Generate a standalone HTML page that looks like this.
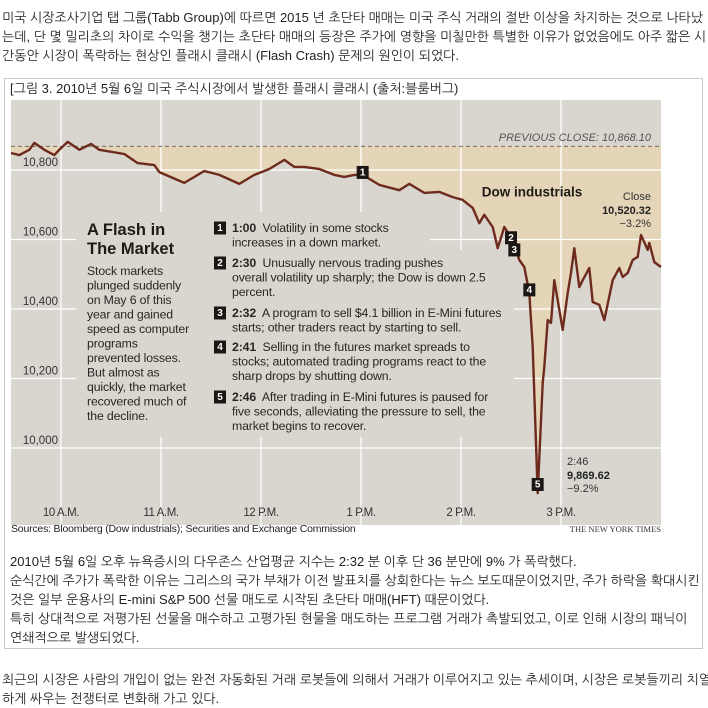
<!DOCTYPE html>
<html><head><meta charset="utf-8">
<style>
body{margin:0;width:708px;height:707px;background:#fff;overflow:hidden;font-family:"Liberation Sans","NanumGothic","Noto Sans CJK KR",sans-serif;color:#222;}
.kt{position:absolute;left:2px;font-size:13px;line-height:19px;white-space:nowrap;letter-spacing:0px;}
#box{position:absolute;left:4px;top:78px;width:697px;height:569px;border:1px solid #c8c8c8;}
svg{position:absolute;left:0;top:0;}
</style></head><body>
<div class="kt" style="top:8px">미국 시장조사기업 탭 그룹(Tabb Group)에 따르면 2015 년 초단타 매매는 미국 주식 거래의 절반 이상을 차지하는 것으로 나타났<br>는데, 단 몇 밀리초의 차이로 수익을 챙기는 초단타 매매의 등장은 주가에 영향을 미칠만한 특별한 이유가 없었음에도 아주 짧은 시<br>간동안 시장이 폭락하는 현상인 플래시 클래시 (Flash Crash) 문제의 원인이 되었다.</div>
<div id="box"></div>
<div class="kt" style="top:79px;left:10px">[그림 3. 2010년 5월 6일 미국 주식시장에서 발생한 플래시 클래시 (출처:블룸버그)</div>
<svg id="chart" width="708" height="707"></svg>
<div class="kt" style="top:552px;left:10px">2010년 5월 6일 오후 뉴욕증시의 다우존스 산업평균 지수는 2:32 분 이후 단 36 분만에 9% 가 폭락했다.<br>순식간에 주가가 폭락한 이유는 그리스의 국가 부채가 이전 발표치를 상회한다는 뉴스 보도때문이었지만, 주가 하락을 확대시킨<br>것은 일부 운용사의 E-mini S&amp;P 500 선물 매도로 시작된 초단타 매매(HFT) 때문이었다.<br>특히 상대적으로 저평가된 선물을 매수하고 고평가된 현물을 매도하는 프로그램 거래가 촉발되었고, 이로 인해 시장의 패닉이<br>연쇄적으로 발생되었다.</div>
<div class="kt" style="top:670px">최근의 시장은 사람의 개입이 없는 완전 자동화된 거래 로봇들에 의해서 거래가 이루어지고 있는 추세이며, 시장은 로봇들끼리 치열<br>하게 싸우는 전쟁터로 변화해 가고 있다.</div>
<script>
const times=[0,5,11,14,20,26,29,34,41,48,53,68,76,86,89,104,116,125,137,146,155,164,170,176,185,194,200,206,211,221,233,239,248,257,265,271,277,281,284,289,292,296,301,305,308,311,313,316,319,320,322,324,326,331,334,336,338,341,343,347,349,353,356,361,365,367,370,373,376,378,382,383,386,390];
const values=[10849,10843,10858,10878,10858,10843,10858,10881,10858,10875,10858,10846,10820,10814,10794,10763,10797,10786,10760,10786,10803,10829,10809,10809,10803,10786,10780,10786,10786,10757,10742,10760,10734,10737,10722,10714,10691,10647,10671,10636,10575,10636,10599,10541,10521,10446,10291,9870,10187,10233,10368,10360,10483,10340,10446,10504,10575,10463,10483,10518,10420,10412,10368,10483,10518,10492,10504,10541,10550,10613,10570,10590,10535,10521];
const yTicks=[10000,10200,10400,10600,10800];
const yTickLabels=["10,000","10,200","10,400","10,600","10,800"];
const xTicks=[30,90,150,210,270,330];
const xTickLabels=["10 A.M.","11 A.M.","12 P.M.","1 P.M.","2 P.M.","3 P.M."];
const prevClose=10868.10;
const markerTimes=[211,300,302,311,316];
const markerValues=[10793,10605,10570,10455,9895];
const markerLabels=["1","2","3","4","5"];

const L=11,R=661,T=100,B=525;
const X=t=>L+(t/390)*(R-L);
const Y=v=>170+(10800-v)*0.3475;
const NS="http://www.w3.org/2000/svg";
const svg=document.getElementById('chart');
function mk(tag,attrs,parent){const e=document.createElementNS(NS,tag);for(const k in attrs)e.setAttribute(k,attrs[k]);(parent||svg).appendChild(e);return e;}
function txt(s,x,y,attrs){const e=mk('text',Object.assign({x:x,y:y,'font-family':'Liberation Sans, sans-serif','dominant-baseline':'central'},attrs));e.textContent=s;return e;}

const bg=mk('rect',{x:L,y:T,width:R-L,height:B-T,fill:'#d9d6d0'});


const py=Y(prevClose);
const clip=mk('clipPath',{id:'belowPrev'});
mk('rect',{x:L,y:py,width:R-L,height:B-py},clip);
let d='M'+X(times[0])+','+py;
times.forEach((t,i)=>{d+=' L'+X(t).toFixed(1)+','+Y(values[i]).toFixed(1);});
d+=' L'+X(times[times.length-1])+','+py+' Z';
const fill=mk('path',{d:d,fill:'#e4d5b8','clip-path':'url(#belowPrev)'});


yTicks.forEach((v,i)=>{
  const g=mk('line',{x1:L,x2:R,y1:Y(v),y2:Y(v),stroke:'#fff','stroke-width':1.3});
  
  
  const t=txt(yTickLabels[i],58,Y(v)-7,{'font-size':'11.5','text-anchor':'end',fill:'#333'});
  
  
});
xTicks.forEach((m,i)=>{
  const g=mk('line',{x1:X(m),x2:X(m),y1:T,y2:B,stroke:'#fff','stroke-width':1.3});
  
  
  const t=txt(xTickLabels[i],X(m),513,{'font-size':'11.5','text-anchor':'middle',fill:'#333','letter-spacing':'-0.4'});
  
  
});
const m1=mk('rect',{x:76,y:212,width:354,height:225,fill:'#d9d6d0'});


const m2=mk('rect',{x:430,y:250,width:84,height:187,fill:'#d9d6d0'});


const dash=mk('line',{x1:L,x2:R,y1:py,y2:py,stroke:'#7a6a58','stroke-width':1,'stroke-dasharray':'4,3'});


const pc=txt('PREVIOUS CLOSE: 10,868.10',651,138,{'font-size':'11','text-anchor':'end',fill:'#555','font-style':'italic'});


let ld='';
times.forEach((t,i)=>{ld+=(i?' L':'M')+X(t).toFixed(1)+','+Y(values[i]).toFixed(1);});
const line=mk('path',{d:ld,fill:'none',stroke:'#6e2a1c','stroke-width':2.4,'stroke-linejoin':'round'});


markerTimes.forEach((t,i)=>{
  const x=X(t),y=Y(markerValues[i]);
  const r=mk('rect',{x:x-6,y:y-6.5,width:12,height:13,fill:'#1c1714'});
  
  
  txt(markerLabels[i],x,y+0.5,{'font-size':'10','font-weight':'bold','text-anchor':'middle',fill:'#fff'});
});
const dl=txt('Dow industrials',532,192,{'font-size':'13.5','font-weight':'bold','text-anchor':'middle',fill:'#1e1a16'});


txt('Close',651,197,{'font-size':'11','text-anchor':'end',fill:'#333'});
txt('10,520.32',651,211,{'font-size':'11','font-weight':'bold','text-anchor':'end',fill:'#222'});
txt('\u22123.2%',651,224,{'font-size':'11','text-anchor':'end',fill:'#333'});
txt('2:46',567,462,{'font-size':'11',fill:'#333'});
txt('9,869.62',567,476,{'font-size':'11','font-weight':'bold',fill:'#222'});
txt('\u22129.2%',567,489,{'font-size':'11',fill:'#333'});
const t1=txt('A Flash in',87,230,{'font-size':'16.5','font-weight':'bold',fill:'#1e1a16'});


txt('The Market',87,249,{'font-size':'16.5','font-weight':'bold',fill:'#1e1a16'});
const body=['Stock markets','plunged suddenly','on May 6 of this','year and gained','speed as computer','programs','prevented losses.','But almost as','quickly, the market','recovered much of','the decline.'];
body.forEach((s,i)=>txt(s,87,271+i*14.5,{'font-size':'12.3',fill:'#2a2622','letter-spacing':'-0.15'}));
const items=[[228,'1','1:00','Volatility in some stocks',['increases in a down market.']],
[263,'2','2:30','Unusually nervous trading pushes',['overall volatility up sharply; the Dow is down 2.5','percent.']],
[313,'3','2:32','A program to sell $4.1 billion in E-Mini futures',['starts; other traders react by starting to sell.']],
[347,'4','2:41','Selling in the futures market spreads to',['stocks; automated trading programs react to the','sharp drops by shutting down.']],
[397,'5','2:46','After trading in E-Mini futures is paused for',['five seconds, alleviating the pressure to sell, the','market begins to recover.']]];
items.forEach(it=>{
  const y=it[0];
  const r=mk('rect',{x:214,y:y-6.5,width:12,height:13,fill:'#1c1714'});
  
  
  txt(it[1],220,y+0.5,{'font-size':'10','font-weight':'bold','text-anchor':'middle',fill:'#fff'});
  const e=mk('text',{x:232,y:y,'font-family':'Liberation Sans, sans-serif','dominant-baseline':'central','font-size':'12.3',fill:'#2a2622','letter-spacing':'-0.15'});
  const b=mk('tspan',{'font-weight':'bold'},e);b.textContent=it[2];
  const n=mk('tspan',{},e);n.textContent='\u00a0 '+it[3];
  it[4].forEach((s,j)=>txt(s,232,y+14.5*(j+1),{'font-size':'12.3',fill:'#2a2622','letter-spacing':'-0.15'}));
});
const src=txt('Sources: Bloomberg (Dow industrials); Securities and Exchange Commission',11,529,{'font-size':'10.5',fill:'#222','letter-spacing':'-0.2'});


const ny=mk('text',{x:661,y:529,'font-family':'Liberation Serif, serif','font-size':'8.5','text-anchor':'end','dominant-baseline':'central',fill:'#333'});
ny.textContent='THE NEW YORK TIMES';


</script>
</body></html>
